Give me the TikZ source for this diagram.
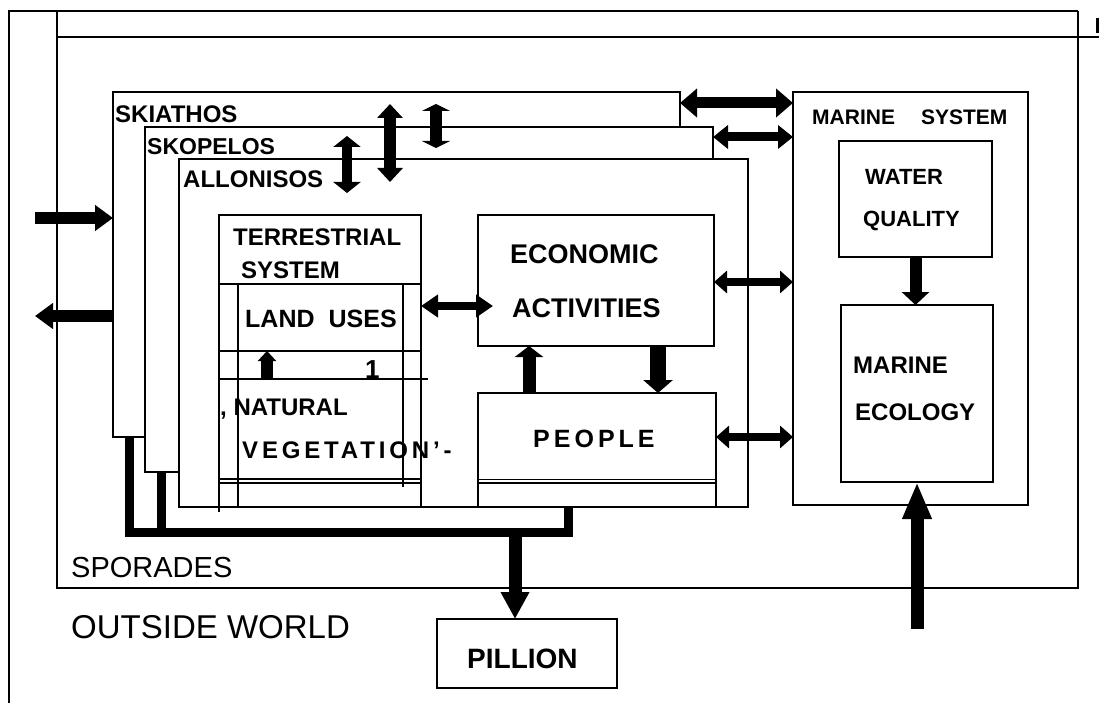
\documentclass[tikz,border=0pt]{standalone}
\usepackage{fontspec}
\setmainfont{Liberation Sans}
\newfontfamily\widefont[LetterSpace=16]{Liberation Sans}
\usetikzlibrary{arrows.meta}

\tikzset{
  frame/.style={draw, line width=2pt, fill=white, anchor=north west, inner sep=0pt, outer sep=0pt},
  thinframe/.style={frame, line width=1.2pt},
  rule/.style={line width=1.6pt},
  lab/.style={anchor=base west, inner sep=0pt, font=\bfseries\fontsize{#1}{#1}\selectfont},
  lab/.default=24,
  spaced/.style={anchor=base west, inner sep=0pt, font=\widefont\bfseries\fontsize{#1}{#1}\selectfont},
  plain/.style={anchor=base west, inner sep=0pt, font=\fontsize{#1}{#1}\selectfont},
  feed/.style={line width=9pt},
  oneway/.style={line width=12pt, -{Triangle[length=16pt,width=27pt]}},
  twoway/.style={line width=10pt, {Triangle[length=15pt,width=26pt]}-{Triangle[length=15pt,width=26pt]}},
  slimway/.style={line width=8pt, {Triangle[length=13pt,width=22pt]}-{Triangle[length=13pt,width=22pt]}},
}

\begin{document}
\begin{tikzpicture}[x=1pt, y=-1pt]
    \useasboundingbox (0,0) rectangle (1099,703);

    % Outside world frame
    \draw[line width=2pt] (9,703) -- (9,11) -- (1078,11);
    \draw[line width=3pt] (1097,18) -- (1097,33);

    % Sporades
    \node[frame, minimum width=1021pt, minimum height=551pt] (sporades) at (57,37) {};
    \draw[line width=2pt] (57,11) -- (57,37);
    \draw[line width=2pt] (1078,11) -- (1078,37) -- (1099,37);

    % The three islands, one behind the other
    \node[frame, minimum width=567pt, minimum height=345pt] (skiathos) at (113,92) {};
    \node[frame, minimum width=568pt, minimum height=345pt] (skopelos) at (145,127) {};
    \node[frame, minimum width=569pt, minimum height=348pt] (allonisos) at (179,159) {};

    % Terrestrial system
    \node[frame, minimum width=202pt, minimum height=292pt] (terr) at (219,215) {};
    \draw[line width=2pt] (terr.south west) -- ++(0,5);
    \draw[rule] (219,284) -- (421,284);
    \draw[rule] (238,284) -- (238,507);
    \draw[rule] (403,284) -- (403,487);
    \draw[rule] (219,351) -- (421,351);
    \draw[rule] (219,379) -- (428,379);
    \draw[rule] (219,479) -- (421,479);
    \draw[rule] (219,483) -- (421,483);

    % Economy and people
    \node[frame, minimum width=236pt, minimum height=131pt] (econ) at (478,215) {};
    \node[frame, minimum width=238pt, minimum height=114pt] (people) at (478,393) {};
    \draw[line width=1pt] (478,479) -- (716,479);
    \draw[rule] (478,483) -- (716,483);

    % Marine system
    \node[frame, minimum width=235pt, minimum height=413pt] (marine) at (793,92) {};
    \node[thinframe, minimum width=153pt, minimum height=116pt] (wq) at (839,141) {};
    \node[thinframe, minimum width=152pt, minimum height=177pt] (me) at (841,305) {};

    % Pillion
    \node[thinframe, minimum width=180pt, minimum height=69pt] (pillion) at (437,619) {};

    % Labels
    \node[lab] (tskia) at (115,123) {SKIATHOS};
    \node[lab=23] (tskop) at (147,155) {SKOPELOS};
    \node[lab] (tallo) at (183,188) {ALLONISOS};
    \node[lab] (tterr) at (233,246) {TERRESTRIAL};
    \node[lab] (tsys) at (241,278) {SYSTEM};
    \node[lab=25] (tland) at (245,327) {LAND\hspace{14pt}USES};
    \node[lab=26] (tone) at (365,378) {1};
    \node[lab] (tnat) at (220,415) {, NATURAL};
    \node[spaced=24] (tveg) at (242,458) {VEGETATION’-};
    \node[lab=27] (tecon) at (510,263) {ECONOMIC};
    \node[lab=27] (tact) at (512,317) {ACTIVITIES};
    \node[spaced=25] (tpeop) at (533,447) {PEOPLE};
    \node[lab=21] (tmar) at (812,125) {MARINE\hspace{26pt}SYSTEM};
    \node[lab=22] (twat) at (865,185) {WATER};
    \node[lab=22] (tqual) at (863,227) {QUALITY};
    \node[lab] (tmarine) at (853,373) {MARINE};
    \node[lab] (tecol) at (855,420) {ECOLOGY};
    \node[plain=29] (tspor) at (71,577) {SPORADES};
    \node[plain=33] (tout) at (71,638) {OUTSIDE WORLD};
    \node[lab=28] (tpil) at (467,668) {PILLION};

    % Exchange with the outside world
    \coordinate (inW) at (35,218);
    \coordinate (outW) at (35,316);
    \draw[oneway, -{Triangle[length=18pt,width=25pt]}] (inW) -- (inW -| skiathos.west);
    \draw[oneway, -{Triangle[length=18pt,width=25pt]}] (outW -| skiathos.west) -- (outW);

    % Links between the islands
    \coordinate (ia) at (390,104);
    \coordinate (ib) at (390,182);
    \coordinate (ic) at (436,104);
    \coordinate (id) at (436,148);
    \coordinate (ie) at (347,136);
    \coordinate (if) at (347,193);
    \draw[twoway, line width=12pt, {Triangle[length=14pt,width=25pt]}-{Triangle[length=14pt,width=25pt]}] (ia) -- (ib);
    \draw[twoway, line width=12pt, {Triangle[length=7pt,width=28pt]}-{Triangle[length=7pt,width=28pt]}] (ic) -- (id);
    \draw[twoway, {Triangle[length=11pt,width=27pt]}-{Triangle[length=11pt,width=27pt]}] (ie) -- (if);

    % Islands and the sea
    \coordinate (s1) at (0,103);
    \coordinate (s2) at (0,137);
    \coordinate (s3) at (0,282);
    \coordinate (s4) at (0,437);
    \draw[twoway, line width=11pt, {Triangle[length=17pt,width=28pt]}-{Triangle[length=17pt,width=28pt]}] (s1 -| skiathos.east) -- (s1 -| marine.west);
    \draw[twoway, line width=9pt, {Triangle[length=15pt,width=23pt]}-{Triangle[length=15pt,width=23pt]}] (s2 -| skopelos.east) -- (s2 -| marine.west);
    \draw[slimway] (s3 -| econ.east) -- (s3 -| marine.west);
    \draw[slimway] (s4 -| people.east) -- (s4 -| marine.west);

    % Land uses and the economy
    \coordinate (s5) at (493,306);
    \draw[slimway, {Triangle[length=17pt,width=22pt]}-{Triangle[length=17pt,width=22pt]}] (s5 -| terr.east) -- (s5);
    \coordinate (lu) at (267,379);
    \draw[oneway, line width=12pt, -{Triangle[length=10pt,width=18pt]}] (lu) -- ++(0,-28);

    % People and the economy
    \draw[oneway, line width=13pt, -{Triangle[length=11pt,width=28pt]}] ([xshift=51pt]people.north west) -- ([xshift=51pt]econ.south west);
    \draw[oneway, line width=16pt, -{Triangle[length=13pt,width=29pt]}] ([xshift=180pt]econ.south west) -- ([xshift=180pt]people.north west);

    % Inside the sea
    \draw[oneway, -{Triangle[length=13pt,width=27pt]}] (wq.south) -- (wq.south |- me.north);
    \coordinate (sea) at (917,629);
    \draw[oneway, line width=13pt, -{Triangle[length=37pt,width=27pt]}] (sea) -- (sea |- me.south);

    % Flows down to Pillion
    \coordinate (ha) at (129,532);
    \coordinate (hb) at (568,532);
    \coordinate (hc) at (161,532);
    \coordinate (hub) at (515,532);
    \draw[feed] (ha |- skiathos.south) -- (ha) -- (hb) -- (hb |- allonisos.south);
    \draw[feed] (hc |- skopelos.south) -- (hc);
    \draw[oneway, line width=13pt, -{Triangle[length=27pt,width=27pt]}] (hub) -- (hub |- pillion.north);
\end{tikzpicture}
\end{document}
